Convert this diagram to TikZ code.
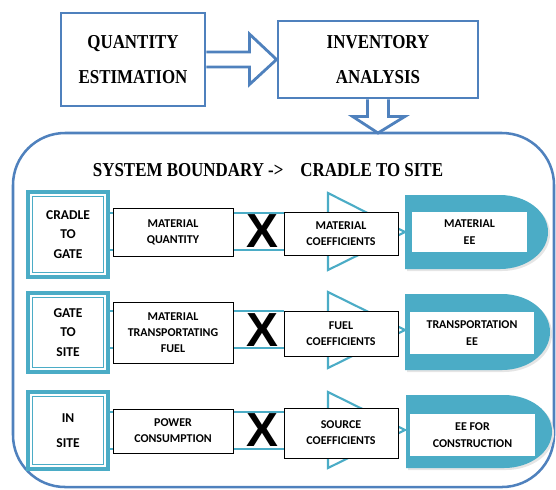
\documentclass[tikz,border=0pt]{standalone}
\usepackage{fontspec}
\usepackage{tikz}
\usepackage{xcolor}
\usetikzlibrary{calc,positioning,backgrounds}
\newfontfamily\headfont[FakeStretch=0.86]{Liberation Serif}
\newfontfamily\boxfont{Carlito}
\newfontfamily\crossfont{Liberation Sans}
\definecolor{boxblue}{RGB}{79,129,189}
\definecolor{aqua}{RGB}{75,172,198}
\tikzset{
  headbox/.style={draw=boxblue, line width=2pt, align=center, inner sep=0pt,
    font=\headfont\bfseries\fontsize{14}{25}\selectfont},
  blockarrow/.style={draw=boxblue, line width=2pt, line join=miter},
  boundary/.style={draw=boxblue, line width=1.8pt, rounded corners=1.3cm},
  boundtitle/.style={inner sep=0pt, font=\headfont\bfseries\fontsize{14}{16}\selectfont},
  stagebox/.style={draw=aqua, line width=3.2pt, align=center, inner sep=0pt,
    font=\boxfont\bfseries\fontsize{9.6}{13.9}\selectfont,
    path picture={\draw[aqua, line width=0.7pt]
      ([shift={(3.4pt,-3.4pt)}]path picture bounding box.north west) rectangle
      ([shift={(-3.4pt,3.4pt)}]path picture bounding box.south east);}},
  databox/.style={draw=black, line width=0.6pt, fill=white, align=center, inner sep=0pt,
    font=\boxfont\bfseries\fontsize{8.5}{11.4}\selectfont},
  link/.style={draw=aqua, line width=1.5pt},
  funnel/.style={draw=aqua, line width=1.5pt, fill=white, line join=miter},
  eeshape/.style={fill=aqua},
  eeshadow/.style={fill=gray!20},
  eetext/.style={fill=white, align=center, inner sep=0pt,
    font=\boxfont\bfseries\fontsize{8.5}{11.6}\selectfont},
  cross/.style={inner sep=0pt, font=\crossfont\bfseries\fontsize{34}{34}\selectfont}
}

\begin{document}
\begin{tikzpicture}[x=0.025cm, y=-0.025cm]
\useasboundingbox (0,0) rectangle (556,489);

% top part
\node[headbox, minimum width=3.6cm, minimum height=2.325cm] (qe) at (133,59.5) {QUANTITY\\ESTIMATION};
\node[headbox, minimum width=5cm, minimum height=1.925cm] (ia) at (378,59.5) {INVENTORY\\ANALYSIS};
\draw[blockarrow] ($(qe.east)+(0,-7.5)$) -- ++(43,0) -- ++(0,-18) -- (ia.west)
  -- ($(qe.east)+(43,25)$) -- ++(0,-17.5) -- ($(qe.east)+(0,7.5)$);
\coordinate (btop) at (378,133);
\draw[blockarrow] ($(ia.south)+(-10.5,0)$) -- ++(0,17) -- ++(-15,0) -- (btop)
  -- ($(ia.south)+(27,17)$) -- ++(-16.5,0) -- ($(ia.south)+(10.5,0)$);

% system boundary
\draw[boundary] (13,133) rectangle (554,487);
\node[boundtitle] (sb) at (268,170) {SYSTEM BOUNDARY ->\hspace{12pt}CRADLE TO SITE};

% row 1
\node[stagebox, minimum width=2cm, minimum height=2.125cm] (cg) at (68,234.5) {CRADLE\\TO\\GATE};
\node[databox, minimum width=3cm, minimum height=1.2cm] (mq) at (173,232) {MATERIAL\\QUANTITY};
\draw[funnel] (328,193) -- (405,232) -- (328,270) -- cycle;
\node[databox, minimum width=2.85cm, minimum height=1.075cm] (mc) at (341,233.5) {MATERIAL\\COEFFICIENTS};
\fill[eeshadow] (407,197) -- (502,197) .. controls (528.5,197) and (550,213.6) .. (550,234)
  .. controls (550,254.4) and (528.5,271) .. (502,271) -- (407,271) -- cycle;
\fill[eeshape] (405,195) -- (500,195) .. controls (526.5,195) and (548,211.6) .. (548,232)
  .. controls (548,252.4) and (526.5,269) .. (500,269) -- (405,269) -- cycle;
\node[eetext, minimum width=2.875cm, minimum height=1cm] (me) at (469.5,232) {MATERIAL\\EE};
\begin{pgfonlayer}{background}
\draw[link] (cg.east |- 0,213) -- (mc.west |- 0,213);
\draw[link] (cg.east |- 0,250) -- (mc.west |- 0,250);
\end{pgfonlayer}
\node[cross] (x1) at (262,231) {X};

% row 2
\node[stagebox, minimum width=2cm, minimum height=1.975cm] (gs) at (68,332.5) {GATE\\TO\\SITE};
\node[databox, minimum width=3cm, minimum height=1.525cm] (mt) at (173,332.5) {MATERIAL\\TRANSPORTATING\\FUEL};
\draw[funnel] (328,292) -- (405,330) -- (328,368) -- cycle;
\node[databox, minimum width=2.85cm, minimum height=1.125cm] (fc) at (341,333.5) {FUEL\\COEFFICIENTS};
\fill[eeshadow] (407,296) -- (504,296) .. controls (530.5,296) and (552,313) .. (552,334)
  .. controls (552,355) and (530.5,372) .. (504,372) -- (407,372) -- cycle;
\fill[eeshape] (405,294) -- (502,294) .. controls (528.5,294) and (550,311) .. (550,332)
  .. controls (550,353) and (528.5,370) .. (502,370) -- (405,370) -- cycle;
\node[eetext, minimum width=3.075cm, minimum height=1.05cm] (te) at (472,333) {TRANSPORTATION\\EE};
\begin{pgfonlayer}{background}
\draw[link] (gs.east |- 0,311) -- (fc.west |- 0,311);
\draw[link] (gs.east |- 0,348) -- (fc.west |- 0,348);
\end{pgfonlayer}
\node[cross] (x2) at (262,330) {X};

% row 3
\node[stagebox, minimum width=2cm, minimum height=1.925cm, font=\boxfont\bfseries\fontsize{9.6}{17.8}\selectfont] (is) at (68,430.5) {IN\\SITE};
\node[databox, minimum width=3cm, minimum height=1.1cm] (pc) at (173,431) {POWER\\CONSUMPTION};
\draw[funnel] (328,392) -- (405,430) -- (328,468) -- cycle;
\node[databox, minimum width=2.85cm, minimum height=1.25cm] (sc) at (341,433) {SOURCE\\COEFFICIENTS};
\fill[eeshadow] (408,397) -- (506,397) .. controls (532.5,397) and (554,413.3) .. (554,433.5)
  .. controls (554,453.7) and (532.5,470) .. (506,470) -- (408,470) -- cycle;
\fill[eeshape] (406,395) -- (504,395) .. controls (530.5,395) and (552,411.3) .. (552,431.5)
  .. controls (552,451.7) and (530.5,468) .. (504,468) -- (406,468) -- cycle;
\node[eetext, minimum width=3.125cm, minimum height=1.05cm] (ec) at (472.5,435) {EE FOR\\CONSTRUCTION};
\begin{pgfonlayer}{background}
\draw[link] (is.east |- 0,412) -- (sc.west |- 0,412);
\draw[link] (is.east |- 0,449) -- (sc.west |- 0,449);
\end{pgfonlayer}
\node[cross] (x3) at (262,430) {X};
\end{tikzpicture}
\end{document}
